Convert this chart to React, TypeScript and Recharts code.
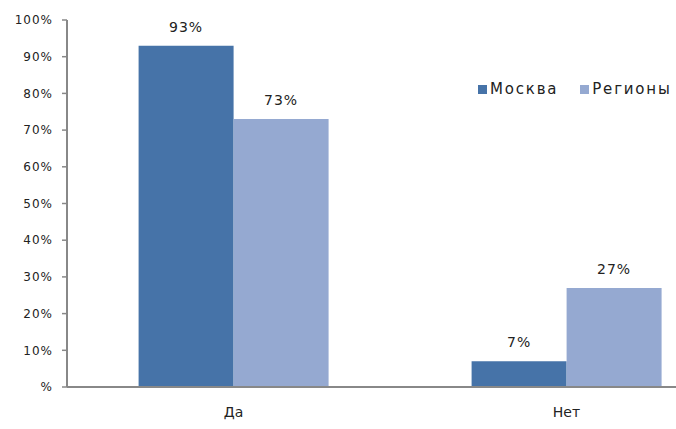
import { Bar, BarChart, LabelList, Legend, XAxis, YAxis } from 'recharts';

const categories = ['Да', 'Нет'];
const moscow = [93, 7];
const regions = [73, 27];
const yTicks = [0, 10, 20, 30, 40, 50, 60, 70, 80, 90, 100];

const chartData = categories.map((name, i) => ({
  name,
  moscow: moscow[i],
  regions: regions[i],
}));

const FONT = '"DejaVu Sans", Verdana, sans-serif';

function LegendContent({ payload }: any) {
  return (
    <div style={{ display: 'flex', fontFamily: FONT, fontSize: 15, letterSpacing: 1.8, color: '#222' }}>
      {(payload || []).map((p: any) => (
        <div key={p.value} style={{ display: 'flex', alignItems: 'center', marginRight: 22 }}>
          <span style={{ width: 9, height: 9, background: p.color, display: 'inline-block', marginRight: 3 }} />
          <span>{p.value}</span>
        </div>
      ))}
    </div>
  );
}

export default function App() {
  return (
    <div style={{ position: 'absolute', left: 0, top: 0, width: 676, height: 429, overflow: 'hidden', background: '#fff' }}>
      <BarChart
        width={740}
        height={429}
        data={chartData}
        margin={{ top: 20, right: 7, bottom: 0, left: 0 }}
        barCategoryGap="21.5%"
        barGap={0}
      >
        <XAxis
          xAxisId="grid"
          type="number"
          domain={[0, 2]}
          ticks={[0, 1, 2]}
          tick={false}
          axisLine={false}
          tickLine={{ stroke: '#888', strokeWidth: 1.5 }}
          tickSize={5}
          height={0}
        />
        <XAxis
          dataKey="name"
          height={42}
          tickLine={false}
          tickSize={0}
          tickMargin={20}
          axisLine={{ stroke: '#888', strokeWidth: 2 }}
          tick={{ fill: '#222', fontSize: 14, fontFamily: FONT }}
        />
        <YAxis
          width={67}
          domain={[0, 100]}
          ticks={yTicks}
          interval={0}
          tickFormatter={(v: number) => (v === 0 ? '%' : `${v}%`)}
          tickSize={5}
          tickMargin={9}
          axisLine={{ stroke: '#888', strokeWidth: 2 }}
          tickLine={{ stroke: '#888', strokeWidth: 1.5 }}
          tick={{ fill: '#222', fontSize: 12, fontFamily: FONT, letterSpacing: 1 }}
        />
        <Legend
          layout="vertical"
          align="center"
          verticalAlign="middle"
          content={<LegendContent />}
          wrapperStyle={{ position: 'absolute', top: 80, left: 478, width: 220 }}
        />
        <Bar dataKey="moscow" name="Москва" fill="#4673a8" isAnimationActive={false}>
          <LabelList
            dataKey="moscow"
            position="top"
            offset={14}
            formatter={(v: number) => `${v}%`}
            style={{ fill: '#222', fontSize: 14, fontFamily: FONT, letterSpacing: 1 }}
          />
        </Bar>
        <Bar dataKey="regions" name="Регионы" fill="#95a9d1" isAnimationActive={false}>
          <LabelList
            dataKey="regions"
            position="top"
            offset={14}
            formatter={(v: number) => `${v}%`}
            style={{ fill: '#222', fontSize: 14, fontFamily: FONT, letterSpacing: 1 }}
          />
        </Bar>
      </BarChart>
    </div>
  );
}
